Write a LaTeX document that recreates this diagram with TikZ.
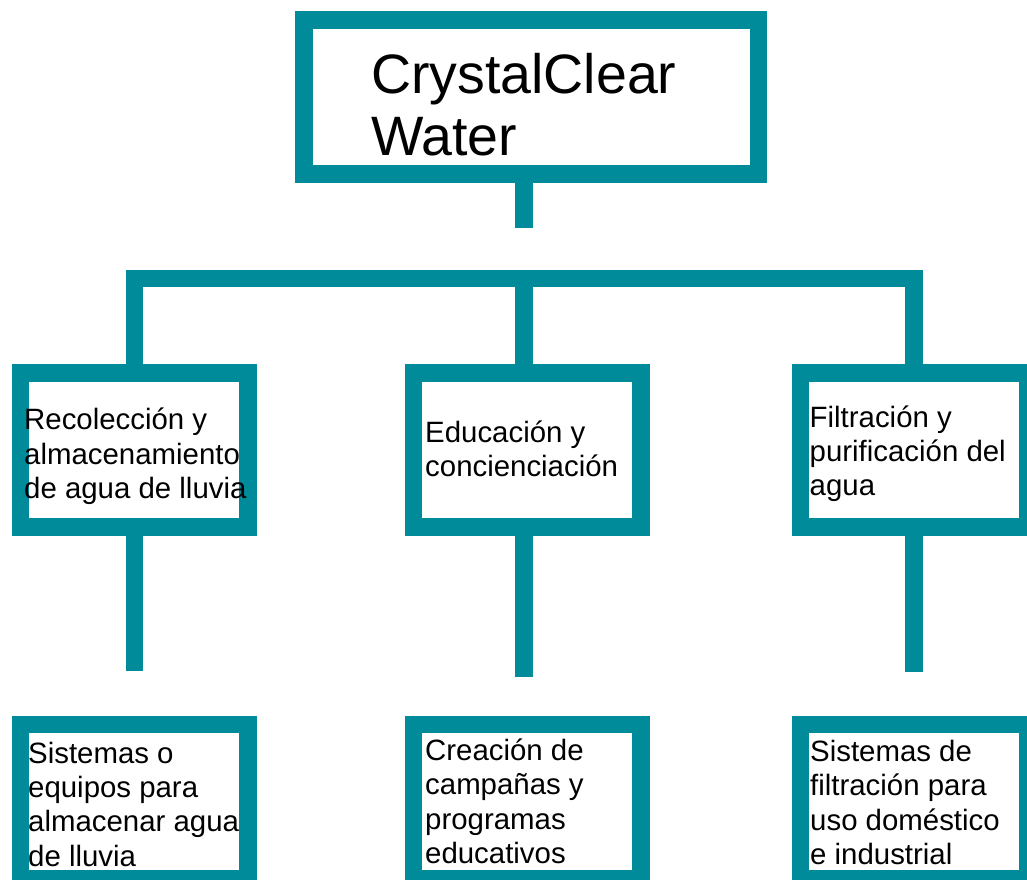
\documentclass[tikz,border=0pt]{standalone}
\usepackage{fontspec}
\setmainfont{Liberation Sans}
\usepackage{tikz}
\definecolor{crystal}{RGB}{0,139,155}

\begin{document}
\begin{tikzpicture}[x=1pt,y=-1pt]
              \tikzstyle{every node}+=[inner sep=0pt]
              \tikzstyle{box}=[draw=crystal, line width=17.5pt, minimum width=227.5pt, minimum height=154pt]
              \tikzstyle{txt}=[anchor=base west, align=left, font=\fontsize{29.4}{34.2}\selectfont]
              \path[use as bounding box, clip] (0,0) rectangle (1027,879);
              % boxes
              \node [box, minimum width=454.5pt] (top) at (531.25,97) {};
              \node [box] (rec) at (134.25,450) {};
              \node [box] (edu) at (527.25,450) {};
              \node [box] (fil) at (914.1,450) {};
              \node [box] (alm) at (134.25,801.5) {};
              \node [box] (cam) at (527.25,801.5) {};
              \node [box] (ind) at (914.1,801.5) {};
              % connectors
              \coordinate (topend) at (524,228);
              \coordinate (bar) at (524,278.5);
              \coordinate (recend) at (134.25,671);
              \coordinate (eduend) at (524,677);
              \coordinate (filend) at (914.1,671.7);
              \draw [crystal, line width=17.5pt] (topend |- top.south) -- (topend);
              \draw [crystal, line width=17.5pt] (rec.north) |- (bar) -| (fil.north);
              \draw [crystal, line width=17.5pt] (bar) -- (bar |- edu.north);
              \draw [crystal, line width=17.5pt] (rec.south) -- (recend);
              \draw [crystal, line width=17.5pt] (eduend |- edu.south) -- (eduend);
              \draw [crystal, line width=17.5pt] (fil.south) -- (filend);
              % texts (anchored at the last baseline)
              \node [txt, font=\fontsize{55.5}{62}\selectfont] (toptxt) at (371,155) {CrystalClear\\Water};
              \node [txt] (rectxt) at (24,498.3) {Recolección y\\almacenamiento\\de agua de lluvia};
              \node [txt] (edutxt) at (425,476.7) {Educación y\\concienciación};
              \node [txt] (filtxt) at (809.5,495.6) {Filtración y\\purificación del\\agua};
              \node [txt] (almtxt) at (28,866) {Sistemas o\\equipos para\\almacenar agua\\de lluvia};
              \node [txt] (camtxt) at (425,863.3) {Creación de\\campañas y\\programas\\educativos};
              \node [txt] (indtxt) at (810,864.3) {Sistemas de\\filtración para\\uso doméstico\\e industrial};
            \end{tikzpicture}
\end{document}
